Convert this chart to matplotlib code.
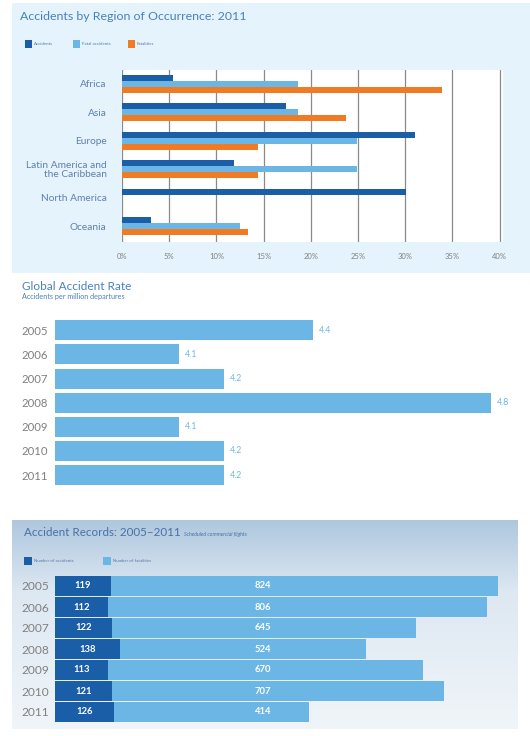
import numpy as np
import matplotlib
matplotlib.use("Agg")
import matplotlib.pyplot as plt
from matplotlib.patches import Rectangle

# ---------------- data ----------------
regions = ["Africa", "Asia", "Europe", "Latin America and\nthe Caribbean", "North America", "Oceania"]
accidents_pct = [5.4, 17.4, 31.0, 11.9, 30.1, 3.1]
fatal_accidents_pct = [18.6, 18.6, 24.9, 24.9, 0.0, 12.5]
fatalities_pct = [33.9, 23.7, 14.4, 14.4, 0.0, 13.3]
pct_ticks = [0, 5, 10, 15, 20, 25, 30, 35, 40]
pct_labels = ["0%", "5%", "10%", "15%", "20%", "25%", "30%", "35%", "40%"]

years = ["2005", "2006", "2007", "2008", "2009", "2010", "2011"]
accident_rate = [4.4, 4.1, 4.2, 4.8, 4.1, 4.2, 4.2]

num_accidents = [119, 112, 122, 138, 113, 121, 126]
num_fatalities = [824, 806, 645, 524, 670, 707, 414]

# ---------------- style ----------------
W, H = 530, 736
FONT = ["Lato", "DejaVu Sans"]
plt.rcParams["font.family"] = FONT

C_DARK = "#1a5ea8"
C_LIGHT = "#6cb6e6"
C_ORANGE = "#f07b22"
C_TITLE = "#4a80bf"
C_GRAY = "#808080"
C_PANEL = "#e5f3fc"

fig = plt.figure(figsize=(W / 100, H / 100), dpi=100)
fig.patch.set_facecolor("white")


def px_axes(x0, y0, x1, y1, **kw):
    """Create axes from pixel box (top-left origin)."""
    return fig.add_axes([x0 / W, 1 - y1 / H, (x1 - x0) / W, (y1 - y0) / H], **kw)


def ftext(x, y, s, **kw):
    fig.text(x / W, 1 - y / H, s, **kw)


# ---------------- panel 1 background ----------------
axp1 = px_axes(12, 3, 530, 273, zorder=-2)
axp1.set_facecolor(C_PANEL)
axp1.set_xticks([])
axp1.set_yticks([])
for s in axp1.spines.values():
    s.set_visible(False)

ftext(20, 17, "Accidents by Region of Occurrence: 2011", fontsize=8.9,
      color=C_TITLE, va="center", ha="left")

# legend panel 1
leg_items = [("Accidents", C_DARK, 25), ("Fatal accidents", C_LIGHT, 73), ("Fatalities", C_ORANGE, 128)]
for lab, col, lx in leg_items:
    fig.patches.append(Rectangle((lx / W, 1 - 48 / H), 7 / W, 8 / H,
                                 transform=fig.transFigure, facecolor=col,
                                 edgecolor="none", zorder=2))
    ftext(lx + 9, 44, lab, fontsize=3.2, color="#5577aa", va="center", ha="left")

# ---------------- chart 1 ----------------
ax1 = px_axes(122, 70, 503, 242)
ax1.set_facecolor("white")
y = np.arange(len(regions))
bh = 0.21
ax1.barh(y - bh, accidents_pct, height=bh, color=C_DARK, zorder=3)
ax1.barh(y, fatal_accidents_pct, height=bh, color=C_LIGHT, zorder=3)
ax1.barh(y + bh, fatalities_pct, height=bh, color=C_ORANGE, zorder=3)
ax1.set_xlim(0, 40.35)
ax1.set_ylim(5.56, -0.49)
ax1.set_yticks(y)
ax1.set_yticklabels(regions, fontsize=7.3, color="#5f7fae", linespacing=1.0)
ax1.set_xticks(pct_ticks)
ax1.set_xticklabels(pct_labels, fontsize=5.5, color=C_GRAY)
ax1.tick_params(axis="both", length=0)
ax1.tick_params(axis="y", pad=11)
ax1.tick_params(axis="x", pad=8)
for s in ax1.spines.values():
    s.set_visible(False)
ax1.grid(axis="x", color="#8a8a8a", linewidth=0.9, zorder=1)
ax1.set_axisbelow(True)

# ---------------- chart 2 ----------------
ftext(22, 286, "Global Accident Rate", fontsize=8.5, color=C_TITLE, va="center", ha="left")
ftext(22, 297, "Accidents per million departures", fontsize=5.2, color=C_TITLE, va="center", ha="left")

ax2 = px_axes(55, 318.2, 512, 487.2)
y2 = np.arange(len(years))
ax2.barh(y2, accident_rate, height=0.83, color=C_LIGHT)
ax2.set_xlim(3.822, 4.847)
ax2.set_ylim(len(years) - 0.5, -0.5)
for yi, v in zip(y2, accident_rate):
    ax2.annotate(f"{v:.1f}", (v, yi), xytext=(4.5, 0), textcoords="offset points",
                 fontsize=6.3, color=C_LIGHT, va="center", ha="left", annotation_clip=False)
ax2.set_yticks(y2)
ax2.set_yticklabels(years, fontsize=8.2, color=C_GRAY)
ax2.tick_params(axis="y", length=0, pad=5)
ax2.set_xticks([])
for s in ax2.spines.values():
    s.set_visible(False)
ax2.set_facecolor("none")

# ---------------- panel 3 background (sky gradient) ----------------
axbg = px_axes(12, 520, 518, 729, zorder=-2)
grad_rows = np.linspace(0, 1, 200)[:, None]
top_c = np.array([0.68, 0.78, 0.87])
mid_c = np.array([0.87, 0.91, 0.95])
bot_c = np.array([0.94, 0.96, 0.975])
img = np.where(grad_rows < 0.35,
               top_c + (mid_c - top_c) * (grad_rows / 0.35),
               mid_c + (bot_c - mid_c) * ((grad_rows - 0.35) / 0.65))
img = np.repeat(img[:, None, :], 2, axis=1).reshape(200, 2, 3)
axbg.imshow(img, aspect="auto", extent=(0, 1, 0, 1), interpolation="bilinear")
axbg.set_axis_off()

ftext(24, 533, "Accident Records: 2005\u20132011", fontsize=8.4, color="#4a70a8", va="center", ha="left")
ftext(184, 534, "Scheduled commercial flights", fontsize=3.8, color="#4a70a8",
      va="center", ha="left", style="italic")

leg3 = [("Number of accidents", C_DARK, 24), ("Number of fatalities", C_LIGHT, 103)]
for lab, col, lx in leg3:
    fig.patches.append(Rectangle((lx / W, 1 - 565 / H), 8 / W, 8 / H,
                                 transform=fig.transFigure, facecolor=col,
                                 edgecolor="none", zorder=3))
    ftext(lx + 10, 561, lab, fontsize=3.2, color="#5577aa", va="center", ha="left")

ax3 = px_axes(55, 575.5, 512, 722.5)
y3 = np.arange(len(years))
ax3.barh(y3, num_accidents, height=0.94, color=C_DARK)
ax3.barh(y3, num_fatalities, left=num_accidents, height=0.94, color=C_LIGHT)
ax3.set_xlim(0, 972)
ax3.set_ylim(len(years) - 0.5, -0.5)
for yi, a in zip(y3, num_accidents):
    ax3.text(a / 2, yi, str(a), fontsize=6.8, color="white", fontweight="bold",
             va="center", ha="center")
for yi, f in zip(y3, num_fatalities):
    ax3.text(0.455, yi, str(f), fontsize=6.8, color="white", fontweight="bold",
             va="center", ha="center", transform=ax3.get_yaxis_transform())
ax3.set_yticks(y3)
ax3.set_yticklabels(years, fontsize=8.6, color=C_GRAY)
ax3.tick_params(axis="y", length=0, pad=4)
ax3.set_xticks([])
for s in ax3.spines.values():
    s.set_visible(False)
ax3.set_facecolor("none")

fig.savefig("out.png", dpi=100)
